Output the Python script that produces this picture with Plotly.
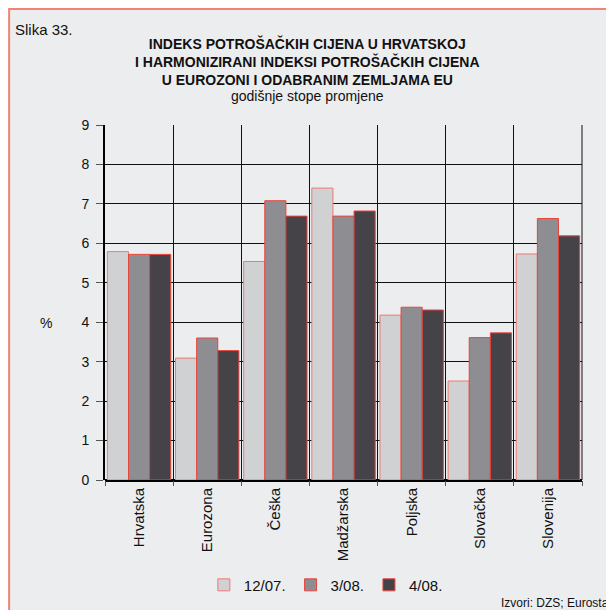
import plotly.graph_objects as go

# Podaci
zemlje = ["Hrvatska", "Eurozona", "Češka", "Madžarska", "Poljska", "Slovačka", "Slovenija"]
razdoblja = ["12/07.", "3/08.", "4/08."]
v_12_07 = [5.79, 3.09, 5.54, 7.40, 4.18, 2.51, 5.73]
v_3_08 = [5.72, 3.60, 7.08, 6.69, 4.38, 3.61, 6.63]
v_4_08 = [5.72, 3.28, 6.69, 6.82, 4.31, 3.73, 6.19]
y_ticks = [0, 1, 2, 3, 4, 5, 6, 7, 8, 9]

boje = ["#D0D1D3", "#8E8D92", "#454248"]
obrub = ["#EE7A72", "#E8453C", "#E8453C"]
pozadina = "#ECEDEF"
font = "Liberation Sans, Arial, sans-serif"

fig = go.Figure()
for naziv, vrijednosti, boja, rub in zip(razdoblja, [v_12_07, v_3_08, v_4_08], boje, obrub):
    fig.add_trace(go.Bar(
        x=zemlje, y=vrijednosti, name=naziv,
        marker=dict(color=boja, line=dict(color=rub, width=1)),
    ))

# Okvir slike
fig.add_shape(type="rect", xref="paper", yref="paper",
              x0=-0.201, x1=1.2, y0=-0.5, y1=1.327,
              fillcolor=pozadina, line=dict(color="#F08276", width=2),
              layer="below")

fig.update_layout(
    width=614, height=610,
    margin=dict(l=97, r=40, t=117, b=138),
    paper_bgcolor="white",
    plot_bgcolor=pozadina,
    barmode="group",
    bargap=0.07,
    bargroupgap=0,
    font=dict(family=font, size=14, color="#111"),
    showlegend=True,
    legend=dict(orientation="h", x=0.463, xanchor="center", y=-0.296, yanchor="middle",
                font=dict(size=15), bgcolor="rgba(0,0,0,0)", itemwidth=30),
    xaxis=dict(tickson="boundaries", ticks="outside", ticklen=5, tickcolor="#555",
               showgrid=True, gridcolor="#111", gridwidth=1,
               tickangle=-90, tickfont=dict(size=15), ticklabelstandoff=4,
               showline=False),
    yaxis=dict(range=[0, 9], tickvals=y_ticks, ticks="outside", ticklen=7,
               tickcolor="#555", showgrid=True, gridcolor="#111", gridwidth=1,
               showline=True, linecolor="#000", linewidth=2,
               zeroline=True, zerolinecolor="#000", zerolinewidth=3,
               tickfont=dict(size=14), ticklabelstandoff=4),
)

# Desni rub plotne površine
fig.add_shape(type="line", xref="paper", yref="paper", x0=1, x1=1, y0=0, y1=1,
              line=dict(color="#111", width=1))

fig.add_annotation(text="Slika 33.", xref="paper", yref="paper", x=-0.193, y=1.268,
                   xanchor="left", yanchor="middle", showarrow=False,
                   font=dict(size=15))
fig.add_annotation(
    text="<b>INDEKS POTROŠAČKIH CIJENA U HRVATSKOJ<br>I HARMONIZIRANI INDEKSI POTROŠAČKIH CIJENA"
         "<br>U EUROZONI I ODABRANIM ZEMLJAMA EU</b>",
    xref="paper", yref="paper", x=0.4235, y=1.180, xanchor="center", yanchor="middle",
    showarrow=False, font=dict(size=14))
fig.add_annotation(text="godišnje stope promjene", xref="paper", yref="paper",
                   x=0.4235, y=1.082, xanchor="center", yanchor="middle",
                   showarrow=False, font=dict(size=14))
fig.add_annotation(text="%", xref="paper", yref="paper", x=-0.124, y=0.442,
                   xanchor="center", yanchor="middle", showarrow=False,
                   font=dict(size=14))
fig.add_annotation(text="Izvori: DZS; Eurostat", xref="paper", yref="paper",
                   x=0.826, y=-0.346, xanchor="left", yanchor="middle",
                   showarrow=False, font=dict(size=12))

fig.write_html("out.html")
